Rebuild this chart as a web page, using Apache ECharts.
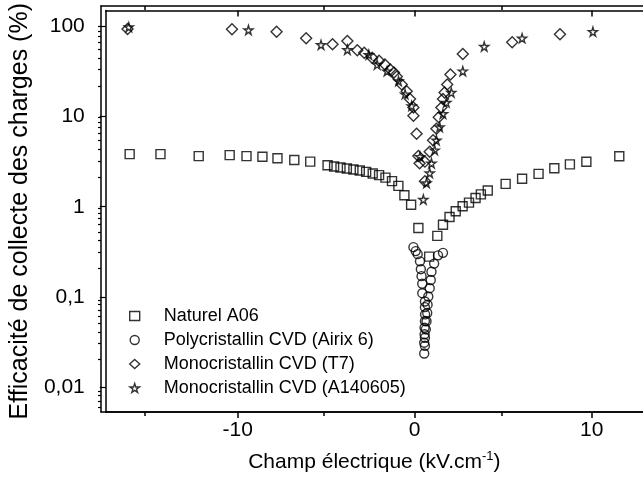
<!DOCTYPE html>
<html><head><meta charset="utf-8">
<script src="https://cdn.jsdelivr.net/npm/echarts@6/dist/echarts.min.js"></script>
<style>html,body{margin:0;padding:0;background:#fff}#c{width:643px;height:481px}</style>
</head><body><div id="c"></div>
<script>
const seriesNames = ['Naturel A06','Polycristallin CVD (Airix 6)','Monocristallin CVD (T7)','Monocristallin CVD (A140605)'];
const naturelE = [-16.1,-14.36,-12.2,-10.45,-9.5,-8.6,-7.75,-6.8,-5.9,-4.92,-4.55,-4.19,-3.83,-3.46,-3.1,-2.74,-2.37,-2.01,-1.65,-1.28,-0.92,-0.58,-0.2,0.21,0.82,1.28,1.6,1.97,2.32,2.71,3.07,3.44,3.74,4.13,5.14,6.07,7.0,7.89,8.77,9.7,11.56];
const naturelV = [3.83,3.83,3.64,3.73,3.64,3.58,3.44,3.30,3.16,2.88,2.79,2.72,2.65,2.59,2.52,2.43,2.33,2.24,2.10,1.92,1.70,1.34,1.05,0.58,0.28,0.475,0.63,0.77,0.89,1.01,1.11,1.25,1.37,1.51,1.79,2.04,2.31,2.67,2.95,3.15,3.63];
const polyE = [-0.07,0.06,0.17,0.30,0.35,0.39,0.43,0.43,0.58,0.58,0.59,0.58,0.56,0.56,0.54,0.54,0.58,0.58,0.63,0.67,0.71,0.73,0.77,0.85,0.91,0.95,1.10,1.32,1.60];
const polyV = [0.356,0.322,0.298,0.248,0.203,0.170,0.140,0.110,0.089,0.077,0.064,0.054,0.0455,0.0385,0.0311,0.0236,0.0287,0.0353,0.0437,0.0538,0.0664,0.082,0.101,0.125,0.154,0.190,0.234,0.289,0.308];
const t7E = [-16.22,-10.32,-7.8,-6.13,-4.64,-3.8,-3.24,-2.85,-2.4,-2.01,-1.68,-1.38,-1.17,-1.01,-0.73,-0.45,-0.26,-0.07,-0.07,0.11,0.21,0.28,0.58,0.58,0.85,1.04,1.23,1.36,1.51,1.6,1.69,1.84,2.02,2.72,5.51,8.21];
const t7V = [93.2,92.5,87.1,73.8,63.4,68.9,54.2,50.9,44.9,41.6,37.6,33.2,30.8,27.8,22.7,19.1,15.6,12.6,10.2,6.45,3.64,3.03,3.16,1.91,4.07,5.45,7.31,9.82,12.6,15.6,18.4,22.7,29.2,49.3,66.7,81.5];
const a14E = [-16.15,-9.39,-5.29,-3.8,-2.59,-2.12,-1.56,-0.91,-0.54,-0.17,0.3,0.49,0.67,0.85,0.95,1.13,1.23,1.41,1.6,1.79,2.07,2.72,3.93,6.07,10.07];
const a14V = [98,90.8,62.3,54.9,48.4,37.6,31.8,24.7,17.7,13.1,3.59,1.2,1.83,2.36,3.03,4.24,5.45,7.64,10.7,14.3,18.4,31.8,59.7,73.8,87.1];
const xMajorTicks = [-10,0,10];
const xMinorTicks = [-15,-5,5];
const yMajorTicks = [0.01,0.1,1,10,100];
const yMinorTicks = [0.006,0.007,0.008,0.009,0.02,0.03,0.04,0.05,0.06,0.07,0.08,0.09,0.2,0.3,0.4,0.5,0.6,0.7,0.8,0.9,2,3,4,5,6,7,8,9,20,30,40,50,60,70,80,90];

const zip = (a,b) => a.map((v,i)=>[v,b[i]]);
const FONT = '"Liberation Sans", Arial, sans-serif';
const XMIN = -17.45, XMAX = 12.9, YMIN = 0.0053, YMAX = 150;
const star = 'path://M50,0 L61,35 L98,35 L68,57 L79,91 L50,70 L21,91 L32,57 L2,35 L39,35 Z';
const GRID = {left:101, top:6, right:0, bottom:69, containLabel:false};

function xAx(g, pos, ticks, len, inside, labels) {
  return {type:'value', min:XMIN, max:XMAX, position:pos, gridIndex:g,
    axisLine:{show:true, onZero:false, lineStyle:{color:'#000', width:1.5}},
    axisTick:{show:true, inside:inside, length:len, customValues:ticks, lineStyle:{color:'#000', width:1.5}},
    axisLabel:{show:!!labels, customValues:labels||ticks, color:'#000', fontSize:21, fontFamily:FONT, margin:8},
    splitLine:{show:false}};
}
function yAx(g, pos, ticks, len, labels) {
  return {type:'log', logBase:10, min:YMIN, max:YMAX, position:pos, gridIndex:g,
    axisLine:{show:pos==='left', onZero:false, lineStyle:{color:'#000', width:1.5}},
    axisTick:{show:!!ticks, inside:false, length:len, customValues:ticks||undefined, lineStyle:{color:'#000', width:1.2}},
    axisLabel:{show:!!labels, customValues:labels||ticks||undefined, color:'#000', fontSize:21, fontFamily:FONT, margin:21,
      formatter: v => String(v).replace('.', ',')},
    splitLine:{show:false}};
}

const xa0 = xAx(0, 'bottom', xMajorTicks, 6, false, xMajorTicks);
xa0.name = 'Champ électrique (kV.cm{sup|-1})';
xa0.nameLocation = 'middle';
xa0.nameGap = 38;
xa0.nameTextStyle = {color:'#000', fontSize:21, fontFamily:FONT, rich:{sup:{fontSize:13, fontFamily:FONT, color:'#000', padding:[0,0,12,0]}}};
const ya0 = yAx(0, 'left', yMajorTicks, 6, yMajorTicks);
ya0.name = 'Efficacité de collecte des charges (%)';
ya0.nameLocation = 'middle';
ya0.nameRotate = 90;
ya0.nameGap = 72;
ya0.nameTextStyle = {color:'#000', fontSize:25, fontFamily:FONT};

const itemStyle = {color:'rgba(0,0,0,0)', borderColor:'#000', borderWidth:1.4};
const mk = (name, E, V, symbol, size) => ({name, type:'scatter', xAxisIndex:0, yAxisIndex:0,
  data: zip(E,V), symbol, symbolSize:size, itemStyle, emphasis:{disabled:true}, animation:false});

const chart = echarts.init(document.getElementById('c'), null, {renderer:'canvas'});
chart.setOption({
  animation:false,
  backgroundColor:'#fff',
  grid:[Object.assign({}, GRID), Object.assign({}, GRID)],
  xAxis:[xa0, xAx(0, 'top', xMajorTicks, 6, true, null), xAx(1, 'bottom', xMinorTicks, 4, false, null), xAx(1, 'top', xMinorTicks, 4, true, null)],
  yAxis:[ya0, yAx(1, 'left', yMinorTicks, 3, null)],
  legend:{orient:'vertical', left:124, top:302, itemWidth:10, itemHeight:9, itemGap:6, symbolKeepAspect:true,
    textStyle:{color:'#000', fontSize:18, fontFamily:FONT, lineHeight:18, padding:[0,0,0,19]},
    data:seriesNames.map(n=>({name:n, itemStyle:{color:'rgba(0,0,0,0)', borderColor:'#000', borderWidth:1.4}}))},
  series:[
    mk(seriesNames[0], naturelE, naturelV, 'rect', 9),
    mk(seriesNames[1], polyE, polyV, 'circle', 9),
    mk(seriesNames[2], t7E, t7V, 'diamond', 11),
    mk(seriesNames[3], a14E, a14V, star, 9)
  ]
});
</script></body></html>
